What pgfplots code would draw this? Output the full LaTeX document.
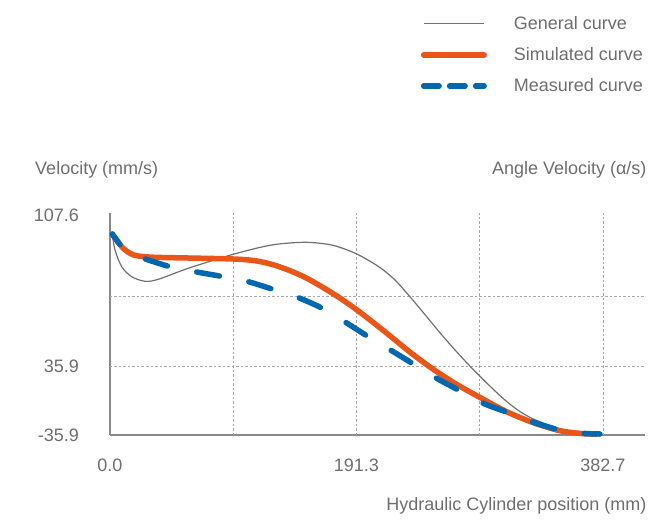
\documentclass[border=0pt]{standalone}
\usepackage{pgfplots}
\pgfplotsset{compat=1.18}
\usepackage{fontspec}
\setmainfont{Liberation Sans}
\definecolor{txt}{HTML}{6E6E6E}
\definecolor{gen}{HTML}{707070}
\definecolor{sim}{HTML}{E8561A}
\definecolor{mea}{HTML}{0067B1}
\definecolor{grd}{HTML}{A8A8A8}
\definecolor{axl}{HTML}{8A8A8A}
\pgfplotsset{
  mealegend/.style={legend image code/.code={\draw[##1, dash pattern=on 15.5pt off 10.5pt, dash phase=0pt] (2.5pt,0pt) -- (63pt,0pt);}},
}
\begin{document}
\begin{tikzpicture}[x=1pt,y=1pt]
\useasboundingbox (-110pt,-85pt) rectangle (561pt,435pt);
\begin{axis}[
  at={(0pt,0pt)}, anchor=south west,
  scale only axis, width=535pt, height=222pt,
  xmin=0, xmax=415.4, ymin=0, ymax=222,
  axis lines=left, axis line style={draw=axl, line width=1.3pt, -},
  xtick={0,191.3,382.7}, xticklabels={0.0,191.3,382.7},
  ytick={0,69,220}, yticklabels={-35.9,35.9,107.6},
  major tick length=0pt,
  tick label style={font=\fontsize{18}{20}\selectfont, text=txt},
  xticklabel style={yshift=-20pt},
  yticklabel style={xshift=-27.5pt},
  extra x ticks={95.65,191.3,286.95,382.7}, extra x tick labels={},
  extra x tick style={grid=major},
  extra y ticks={69,139}, extra y tick labels={},
  extra y tick style={grid=major},
  major grid style={draw=grd, line width=0.7pt, dash pattern=on 2.5pt off 2pt},
  clip=false,
  legend style={at={(0.5807,1.8856)}, anchor=north west, draw=none, fill=none,
    font=\fontsize{18}{20}\selectfont, text=txt, row sep=16.5pt, inner sep=0pt,
    nodes={inner sep=0pt}},
  legend cell align=left,
  /tikz/every odd column/.append style={column sep=27pt},
  legend image code/.code={\draw[#1] (2.5pt,0pt) -- (63pt,0pt);},
]
\addplot[gen, line width=1.2pt, smooth] coordinates {
(1.8,201) (3.9,185) (9.1,168.3) (16.8,158.3) (27.2,153.7) (37.5,155.7)
(60.8,166.7) (95.7,180.7) (125.5,190) (151.4,192.7) (172.1,190) (187.6,183.3)
(198,176.7) (210,167.1) (221.3,155) (232.9,138.3) (245.9,118.3) (258.8,98.3)
(271.7,79.6) (284.7,62.0) (302.8,39.4) (315.8,25.7) (328.7,16.0)
(349.4,6.1) (367.5,1.9) (378,1)
};
\addlegendentry{General curve}
\addplot[sim, line width=5.5pt, line cap=round, smooth] coordinates {
(1.8,201) (9.1,188.3) (15.5,181.7) (22,179) (34.9,177.7) (60.8,177)
(95.7,176) (112.6,174.3) (125.5,170.7) (138.4,165) (151.4,157.7) (164.4,148.3)
(177.3,138) (192.3,124.5) (212.2,104.6) (232.9,82.9) (251,65.7) (269.2,50.6)
(288.6,36.6) (308,23.3) (328.7,12.3) (349.4,4.3) (367.5,1.3) (378,1)
};
\addlegendentry{Simulated curve}
\addplot[mea, line width=5.5pt, line cap=round, dash pattern=on 23pt off 30pt, dash phase=10pt, smooth, mealegend] coordinates {
(1.8,201) (9.1,188.3) (15.5,181.5) (22,178.3) (46.6,168.3) (66,163.3)
(88,158.3) (107.4,153.3) (128.1,145) (146.6,137.2) (165.6,126.2) (183.8,112)
(200.5,98.3) (218.7,84.3) (236.8,70) (253.6,56.7) (273,43.3) (289.8,31.7)
(310.6,21.7) (331.3,11.7) (349.4,5) (367.5,1.7) (380.4,1)
};
\addlegendentry{Measured curve}
\end{axis}
\node[anchor=west, text=txt, font=\fontsize{18}{20}\selectfont] at (-78.3pt,265pt) {Velocity (mm/s)};
\node[anchor=east, text=txt, font=\fontsize{18}{20}\selectfont] at (540pt,265pt) {Angle Velocity (α/s)};
\node[anchor=east, text=txt, font=\fontsize{18}{20}\selectfont] at (540pt,-71pt) {Hydraulic Cylinder position (mm)};
\end{tikzpicture}
\end{document}
